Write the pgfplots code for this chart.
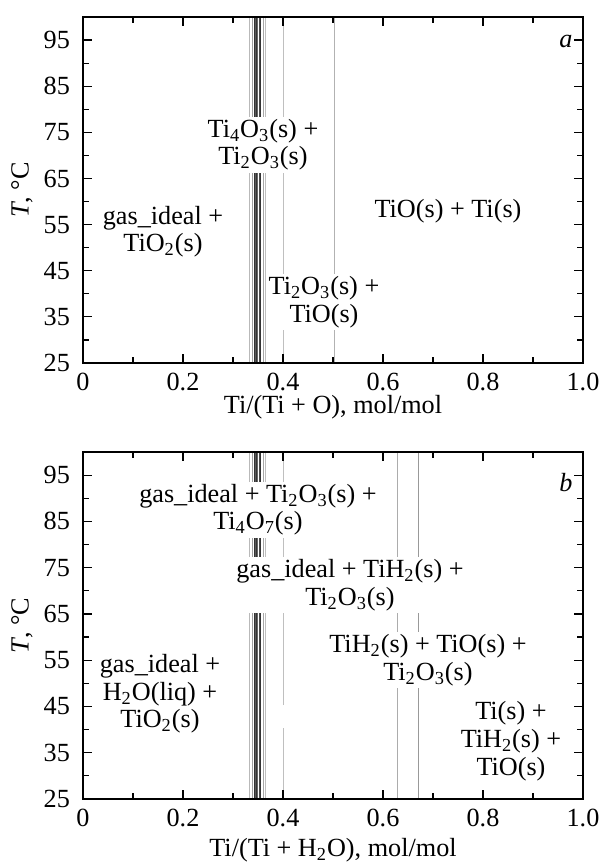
\documentclass[border=0pt]{standalone}
\usepackage{fontspec}
\setmainfont{Liberation Serif}
\usepackage{pgfplots}
\pgfplotsset{compat=1.18}
\pgfplotsset{
  myax/.style={
    scale only axis, width=250pt,
    xmin=0, xmax=1, ymin=25, ymax=100,
    xtick={0,0.2,0.4,0.6,0.8,1.0},
    xticklabels={0,0.2,0.4,0.6,0.8,1.0},
    minor x tick num=1,
    ytick={25,35,45,55,65,75,85,95},
    yticklabels={25,35,45,55,65,75,85,95},
    minor y tick num=1,
    tick align=inside,
    xtick pos=both, ytick pos=both,
    x tick style={line width=0.6pt, black},
    y tick style={line width=0.6pt, black},
    major tick length=4.5pt, minor tick length=3pt,
    axis line style={line width=0.8pt},
    axis on top,
    /pgf/number format/assume math mode=true,
    yticklabel style={xshift=-2pt},
    xticklabel style={yshift=-0.5pt},
    ylabel={\textit{T}, °C},
    ylabel style={at={(axis description cs:-0.122,0.5)}, anchor=center},
    clip=true,
  },
  vl/.style={line width=0.45pt, no marks},
}
\tikzset{lab/.style={fill=white, align=center, inner sep=1.2pt}}
\begin{document}
\fontsize{13.1}{13.8}\selectfont
\begin{tikzpicture}
\path[use as bounding box] (0pt,0pt) rectangle (302.5pt,431.5pt);
% ---------- panel a ----------
\begin{axis}[myax, at={(41.5pt,250pt)}, anchor=south west, height=173pt,
  xlabel={Ti/(Ti + O), mol/mol},
  xlabel style={at={(axis description cs:0.5,-0.146)}, anchor=base}]
\addplot[vl, gray!55]  coordinates {(0.3327,25) (0.3327,100)};
\addplot[vl, gray!75]  coordinates {(0.3393,25) (0.3393,100)};
\addplot[vl, black!80] coordinates {(0.3433,25) (0.3433,100)};
\addplot[vl, black!65] coordinates {(0.3453,25) (0.3453,100)};
\addplot[vl, black!80] coordinates {(0.3473,25) (0.3473,100)};
\addplot[vl, black!60] coordinates {(0.3493,25) (0.3493,100)};
\addplot[vl, black!70] coordinates {(0.3527,25) (0.3527,100)};
\addplot[vl, black!80] coordinates {(0.3553,25) (0.3553,100)};
\addplot[vl, gray!70]  coordinates {(0.3600,25) (0.3600,100)};
\addplot[vl, gray!50]  coordinates {(0.3640,25) (0.3640,100)};
\addplot[vl, gray!50]  coordinates {(0.4000,25) (0.4000,100)};
\addplot[vl, gray!60]  coordinates {(0.5020,25) (0.5020,100)};
\node[lab] at (axis cs:0.36,72.3) {Ti\textsubscript{4}O\textsubscript{3}(s) +\\Ti\textsubscript{2}O\textsubscript{3}(s)};
\node[lab] at (axis cs:0.16,53.5) {gas\_ideal +\\TiO\textsubscript{2}(s)};
\node[lab] at (axis cs:0.73,58.0) {TiO(s) + Ti(s)};
\node[lab] at (axis cs:0.482,38.2) {Ti\textsubscript{2}O\textsubscript{3}(s) +\\TiO(s)};
\node at (axis cs:0.966,94.6) {\textit{a}};
\end{axis}
% ---------- panel b ----------
\begin{axis}[myax, at={(41.5pt,32pt)}, anchor=south west, height=173.5pt,
  xlabel={Ti/(Ti + H\textsubscript{2}O), mol/mol},
  xlabel style={at={(axis description cs:0.5,-0.167)}, anchor=base}]
\addplot[vl, gray!55]  coordinates {(0.3327,25) (0.3327,100)};
\addplot[vl, gray!75]  coordinates {(0.3393,25) (0.3393,100)};
\addplot[vl, black!80] coordinates {(0.3433,25) (0.3433,100)};
\addplot[vl, black!65] coordinates {(0.3453,25) (0.3453,100)};
\addplot[vl, black!80] coordinates {(0.3473,25) (0.3473,100)};
\addplot[vl, black!60] coordinates {(0.3493,25) (0.3493,100)};
\addplot[vl, black!70] coordinates {(0.3527,25) (0.3527,100)};
\addplot[vl, black!80] coordinates {(0.3553,25) (0.3553,100)};
\addplot[vl, gray!70]  coordinates {(0.3600,25) (0.3600,100)};
\addplot[vl, gray!50]  coordinates {(0.3640,25) (0.3640,100)};
\addplot[vl, gray!50]  coordinates {(0.4000,25) (0.4000,40.3)};
\addplot[vl, gray!50]  coordinates {(0.4000,45.3) (0.4000,100)};
\addplot[vl, gray!65]  coordinates {(0.6287,25) (0.6287,100)};
\addplot[vl, gray!80]  coordinates {(0.6707,25) (0.6707,100)};
\node[lab] at (axis cs:0.35,87.5) {gas\_ideal + Ti\textsubscript{2}O\textsubscript{3}(s) +\\Ti\textsubscript{4}O\textsubscript{7}(s)};
\node[lab] at (axis cs:0.534,71.2) {gas\_ideal + TiH\textsubscript{2}(s) +\\Ti\textsubscript{2}O\textsubscript{3}(s)};
\node[lab] at (axis cs:0.154,47.7) {gas\_ideal +\\H\textsubscript{2}O(liq) +\\TiO\textsubscript{2}(s)};
\node[lab] at (axis cs:0.69,55.0) {TiH\textsubscript{2}(s) + TiO(s) +\\Ti\textsubscript{2}O\textsubscript{3}(s)};
\node[lab] at (axis cs:0.856,37.5) {Ti(s) +\\TiH\textsubscript{2}(s) +\\TiO(s)};
\node at (axis cs:0.966,93.5) {\textit{b}};
\end{axis}
\end{tikzpicture}
\end{document}
